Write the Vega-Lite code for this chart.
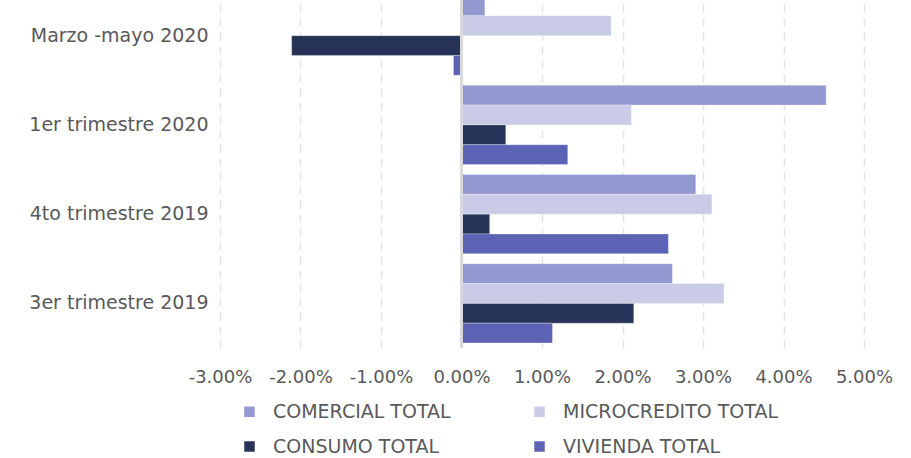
{
  "$schema": "https://vega.github.io/schema/vega-lite/v6.json",
  "width": 644,
  "height": 357,
  "autosize": {"type": "none"},
  "padding": {"left": 220, "top": -9, "right": 47, "bottom": 110},
  "background": "white",
  "config": {
    "view": {"stroke": null},
    "font": "DejaVu Sans"
  },
  "data": {
    "values": [
      {"periodo": "Marzo -mayo 2020", "serie": "COMERCIAL TOTAL", "valor": 0.0029},
      {"periodo": "Marzo -mayo 2020", "serie": "MICROCREDITO TOTAL", "valor": 0.0186},
      {"periodo": "Marzo -mayo 2020", "serie": "CONSUMO TOTAL", "valor": -0.0211},
      {"periodo": "Marzo -mayo 2020", "serie": "VIVIENDA TOTAL", "valor": -0.0010},
      {"periodo": "1er trimestre 2020", "serie": "COMERCIAL TOTAL", "valor": 0.0453},
      {"periodo": "1er trimestre 2020", "serie": "MICROCREDITO TOTAL", "valor": 0.0211},
      {"periodo": "1er trimestre 2020", "serie": "CONSUMO TOTAL", "valor": 0.0055},
      {"periodo": "1er trimestre 2020", "serie": "VIVIENDA TOTAL", "valor": 0.0132},
      {"periodo": "4to trimestre 2019", "serie": "COMERCIAL TOTAL", "valor": 0.0291},
      {"periodo": "4to trimestre 2019", "serie": "MICROCREDITO TOTAL", "valor": 0.0311},
      {"periodo": "4to trimestre 2019", "serie": "CONSUMO TOTAL", "valor": 0.0035},
      {"periodo": "4to trimestre 2019", "serie": "VIVIENDA TOTAL", "valor": 0.0257},
      {"periodo": "3er trimestre 2019", "serie": "COMERCIAL TOTAL", "valor": 0.0262},
      {"periodo": "3er trimestre 2019", "serie": "MICROCREDITO TOTAL", "valor": 0.0326},
      {"periodo": "3er trimestre 2019", "serie": "CONSUMO TOTAL", "valor": 0.0214},
      {"periodo": "3er trimestre 2019", "serie": "VIVIENDA TOTAL", "valor": 0.0113}
    ]
  },
  "layer": [
    {
      "mark": {"type": "bar", "stroke": "white", "strokeWidth": 0.5, "strokeOpacity": 0.6},
      "encoding": {
        "y": {
          "field": "periodo",
          "type": "nominal",
          "sort": ["Marzo -mayo 2020", "1er trimestre 2020", "4to trimestre 2019", "3er trimestre 2019"],
          "scale": {"paddingInner": 0.112, "paddingOuter": 0.056},
          "axis": {
            "title": null,
            "domain": false,
            "ticks": false,
            "labelPadding": 12,
            "labelFontSize": 19,
            "labelColor": "#595959",
            "labelLimit": 300
          }
        },
        "yOffset": {
          "field": "serie",
          "type": "nominal",
          "sort": ["COMERCIAL TOTAL", "MICROCREDITO TOTAL", "CONSUMO TOTAL", "VIVIENDA TOTAL"],
          "scale": {"paddingInner": 0, "paddingOuter": 0}
        },
        "x": {
          "field": "valor",
          "type": "quantitative",
          "scale": {"domain": [-0.03, 0.05], "nice": false},
          "axis": {
            "title": null,
            "labelExpr": "replace(format(datum.value, '.2%'), '\u2212', '-')",
            "values": [-0.03, -0.02, -0.01, 0, 0.01, 0.02, 0.03, 0.04, 0.05],
            "labelOverlap": false,
            "labelBound": false,
            "labelFlush": false,
            "domain": false,
            "ticks": false,
            "labelPadding": 20,
            "labelFontSize": 18,
            "labelColor": "#595959",
            "grid": true,
            "gridColor": "#e3e3e3",
            "gridWidth": 1.5,
            "gridDash": [8, 6]
          }
        },
        "color": {
          "field": "serie",
          "type": "nominal",
          "sort": ["COMERCIAL TOTAL", "MICROCREDITO TOTAL", "CONSUMO TOTAL", "VIVIENDA TOTAL"],
          "scale": {
            "domain": ["COMERCIAL TOTAL", "MICROCREDITO TOTAL", "CONSUMO TOTAL", "VIVIENDA TOTAL"],
            "range": ["#9398D0", "#CACBE6", "#263357", "#5C63B5"]
          },
          "legend": {
            "title": null,
            "orient": "none",
            "legendX": 20,
            "legendY": 411,
            "direction": "horizontal",
            "columns": 2,
            "columnPadding": 79,
            "rowPadding": 15,
            "symbolType": "square",
            "symbolSize": 110,
            "symbolStrokeWidth": 0,
            "labelOffset": 14,
            "labelFontSize": 19,
            "labelColor": "#595959",
            "labelLimit": 300
          }
        }
      }
    },
    {
      "mark": {"type": "rule", "color": "#d9d9d9", "strokeWidth": 2},
      "encoding": {"x": {"datum": 0}}
    }
  ]
}
